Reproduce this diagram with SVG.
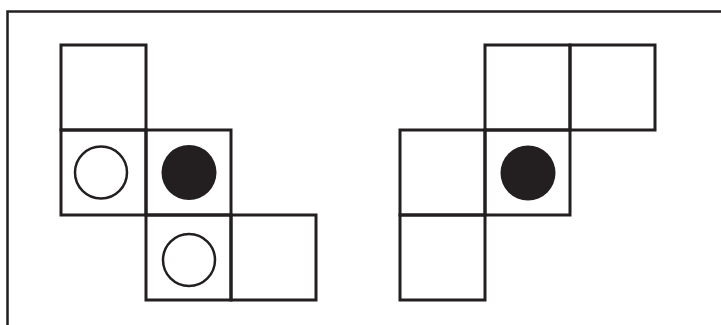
<svg xmlns="http://www.w3.org/2000/svg" width="721" height="325" viewBox="0 0 721 325">
<style>
.cell{fill:none;stroke:#231f20;stroke-width:3}
.open{fill:none;stroke:#231f20;stroke-width:2.5}
.fill{fill:#231f20}
.frame{fill:none;stroke:#231f20;stroke-width:2.5}
</style>
<rect width="721" height="325" fill="#fff"/>
<path class="frame" d="M7.5,326 V11.5 H722"/>
<g id="left-figure">
<rect class="cell" x="61" y="45" width="85" height="85"/>
<rect class="cell" x="61" y="130" width="85" height="85"/>
<rect class="cell" x="146" y="130" width="85" height="85"/>
<rect class="cell" x="146" y="215" width="85" height="85"/>
<rect class="cell" x="231" y="215" width="85" height="85"/>
<circle class="open" cx="101" cy="172.5" r="26"/>
<circle class="fill" cx="189" cy="172.5" r="27.5"/>
<circle class="open" cx="189" cy="260" r="26"/>
</g>
<g id="right-figure">
<rect class="cell" x="485" y="45" width="85" height="85"/>
<rect class="cell" x="570" y="45" width="85" height="85"/>
<rect class="cell" x="400" y="130" width="85" height="85"/>
<rect class="cell" x="485" y="130" width="85" height="85"/>
<rect class="cell" x="400" y="215" width="85" height="85"/>
<circle class="fill" cx="528" cy="173" r="27.5"/>
</g>
<g id="connectors"/>
</svg>
